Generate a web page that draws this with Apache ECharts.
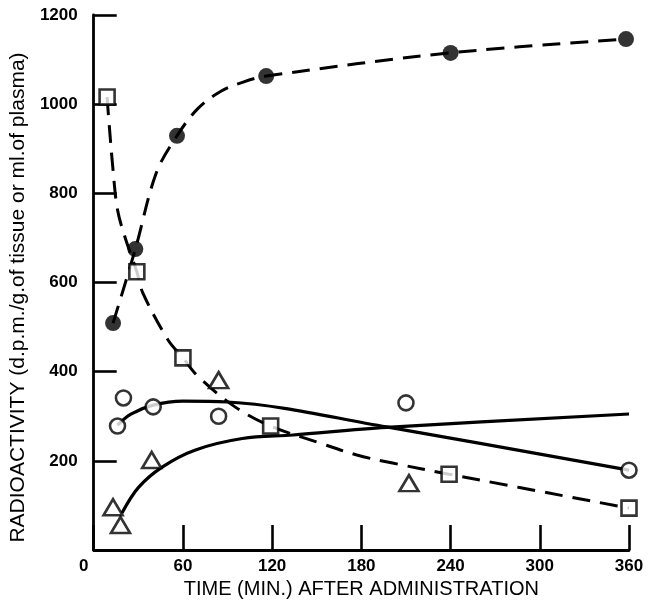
<!DOCTYPE html>
<html>
<head>
<meta charset="utf-8">
<script src="https://cdn.jsdelivr.net/npm/echarts@6/dist/echarts.min.js"></script>
<style>
html,body{margin:0;padding:0;background:#fff;}
#chart{width:648px;height:608px;}
</style>
</head>
<body>
<div id="chart"></div>
<script>
// Measured points (time in min, radioactivity)
const filledT = [13, 28, 56, 116, 240, 358];
const filledV = [509, 675, 929, 1063, 1115, 1146];
const squareT = [9, 29, 60, 119, 239, 360];
const squareV = [1016, 624, 431, 278, 170, 94];
const circleT = [16, 20, 40, 84, 210, 360];
const circleV = [278, 341, 321, 300, 330, 179];
const triT = [13, 18, 39, 84, 212, 362];
const triV = [96, 56, 202, 381, 150, 307];

// Curves
const filledCurveT = [13, 28, 42, 56, 70, 85, 100, 116, 240, 358];
const filledCurveV = [509, 675, 845, 929, 990, 1028, 1049, 1063, 1115, 1146];
const squareCurveT = [9, 10, 13, 16, 21, 29, 33, 50, 60, 70, 95, 119, 152, 177, 201, 239, 360];
const squareCurveV = [1016, 971, 852, 763, 702, 624, 577, 471, 431, 390, 321, 278, 240, 213, 195, 170, 94];
const circleCurveT = [16, 25, 40, 60, 90, 197, 360];
const circleCurveV = [280, 305, 325, 334, 332, 276, 179];
const triCurveT = [19, 30, 46, 68, 100, 134, 197, 360];
const triCurveV = [83, 140, 186, 224, 250, 258, 275, 305];

const xTickLabels = ['0', '60', '120', '180', '240', '300', '360'];
const yTickLabels = ['', '200', '400', '600', '800', '1000', '1200'];

const zip = (a, b) => a.map((v, i) => [v, b[i]]);
const FONT = "'Liberation Sans', Arial, sans-serif";

const chart = echarts.init(document.getElementById('chart'), null, {renderer: 'canvas'});
const lineBase = {type: 'line', symbol: 'none', smooth: 0.35, silent: true, z: 2};
const open = {color: '#fff', borderColor: '#000', borderWidth: 2.6};

chart.setOption({
  backgroundColor: '#fff',
  animation: false,
  grid: {left: 91, right: 19, top: 15, bottom: 58, containLabel: false},
  xAxis: {
    type: 'value', min: 0, max: 360, interval: 60,
    name: 'TIME (MIN.) AFTER ADMINISTRATION',
    nameLocation: 'middle', nameGap: 38,
    nameTextStyle: {fontFamily: FONT, fontSize: 20, color: '#000', verticalAlign: 'middle'},
    axisLine: {show: true, onZero: false, lineStyle: {color: '#000', width: 2.8}},
    axisTick: {show: true, inside: true, length: 25, lineStyle: {color: '#000', width: 2.6}},
    axisLabel: {fontFamily: FONT, fontWeight: 'bold', fontSize: 17, color: '#000', margin: 8,
      formatter: (v) => v === 0 ? '{z|0}' : xTickLabels[Math.round(v / 60)],
      rich: {z: {fontFamily: FONT, fontWeight: 'bold', fontSize: 17, color: '#000', padding: [0, 20, 0, 0]}}},
    splitLine: {show: false}
  },
  yAxis: {
    type: 'value', min: 0, max: 1200, interval: 200,
    name: 'RADIOACTIVITY (d.p.m./g.of tissue or ml.of plasma)',
    nameLocation: 'middle', nameGap: 62,
    nameTextStyle: {fontFamily: FONT, fontSize: 21, color: '#000', padding: [0, 30, 0, 0]},
    axisLine: {show: true, onZero: false, lineStyle: {color: '#000', width: 2.8}},
    axisTick: {show: true, inside: true, length: 23, lineStyle: {color: '#000', width: 2.6}},
    axisLabel: {fontFamily: FONT, fontWeight: 'bold', fontSize: 17, color: '#000', margin: 16,
      formatter: (v) => yTickLabels[Math.round(v / 200)]},
    splitLine: {show: false}
  },
  series: [
    Object.assign({}, lineBase, {data: zip(filledCurveT, filledCurveV),
      lineStyle: {color: '#000', width: 3, type: [18, 10]}}),
    Object.assign({}, lineBase, {data: zip(squareCurveT, squareCurveV),
      lineStyle: {color: '#000', width: 3, type: [18, 10]}}),
    Object.assign({}, lineBase, {data: zip(circleCurveT, circleCurveV),
      lineStyle: {color: '#000', width: 3.2, type: 'solid'}}),
    Object.assign({}, lineBase, {data: zip(triCurveT, triCurveV),
      lineStyle: {color: '#000', width: 3.2, type: 'solid'}}),
    {type: 'scatter', symbol: 'circle', symbolSize: 16, z: 5, data: zip(filledT, filledV),
      itemStyle: {color: '#000'}},
    {type: 'scatter', symbol: 'rect', symbolSize: 15, z: 5, data: zip(squareT, squareV),
      itemStyle: open},
    {type: 'scatter', symbol: 'circle', symbolSize: 15, z: 5, data: zip(circleT, circleV),
      itemStyle: open},
    {type: 'scatter', symbol: 'triangle', symbolSize: [19, 16], z: 5, data: zip(triT, triV),
      itemStyle: {color: '#fff', borderColor: '#000', borderWidth: 2.6}}
  ]
});
</script>
</body>
</html>
